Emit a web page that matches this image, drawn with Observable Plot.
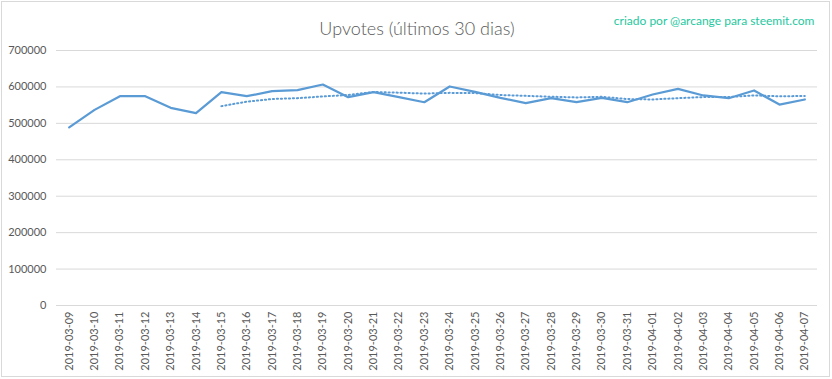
<!DOCTYPE html>
<html>
<head>
<meta charset="utf-8">
<script src="https://cdn.jsdelivr.net/npm/d3@7"></script>
<script src="https://cdn.jsdelivr.net/npm/@observablehq/plot@0.6"></script>
<style>
  html, body { margin: 0; padding: 0; background: #fff; }
  #chart { position: relative; width: 832px; height: 379px; }
  #chart svg { position: absolute; left: 0; top: 0; }
  #border { position: absolute; left: 1px; top: 1px; width: 827px; height: 374px; border: 1px solid #d9d9d9; pointer-events: none; }
</style>
</head>
<body>
<div id="chart"><div id="border"></div></div>
<script>
const dates = [
  "2019-03-09","2019-03-10","2019-03-11","2019-03-12","2019-03-13","2019-03-14","2019-03-15",
  "2019-03-16","2019-03-17","2019-03-18","2019-03-19","2019-03-20","2019-03-21","2019-03-22",
  "2019-03-23","2019-03-24","2019-03-25","2019-03-26","2019-03-27","2019-03-28","2019-03-29",
  "2019-03-30","2019-03-31","2019-04-01","2019-04-02","2019-04-03","2019-04-04","2019-04-05",
  "2019-04-06","2019-04-07"
];
const upvotes = [
  489000, 537000, 574500, 574500, 542700, 528000, 585600,
  574500, 588300, 591000, 606600, 571800, 585600, 571800,
  558000, 601200, 586500, 570000, 555300, 569000, 558000,
  570000, 558000, 579200, 594800, 576500, 569000, 590200,
  551700, 565500
];
const yTicks = [0, 100000, 200000, 300000, 400000, 500000, 600000, 700000];
const title = "Upvotes (últimos 30 dias)";
const credit = "criado por @arcange para steemit.com";

const data = dates.map((d, i) => ({date: d, value: upvotes[i]}));
const blue = "#5b9bd5";
const font = "Lato, 'Open Sans', sans-serif";

const chart = Plot.plot({
  width: 832,
  height: 379,
  marginLeft: 56,
  marginRight: 15,
  marginTop: 50,
  marginBottom: 74,
  style: {fontFamily: font, background: "transparent", color: "#595959"},
  x: {type: "point", domain: dates, padding: 0.5, round: false, label: null},
  y: {domain: [0, 700000], label: null},
  marks: [
    Plot.ruleY(yTicks, {stroke: "#d9d9d9", strokeWidth: 1}),
    Plot.axisY(yTicks, {tickSize: 0, tickPadding: 10, tickFormat: d => String(d), fontSize: 11, fill: "#595959", label: null}),
    Plot.axisX({tickSize: 0, tickPadding: 6, tickRotate: -90, fontSize: 11, fill: "#595959", label: null}),
    Plot.line(data, Plot.windowY({k: 7, anchor: "end", strict: true}, {x: "date", y: "value", stroke: blue, strokeWidth: 2, strokeDasharray: "1.2,2.8"})),
    Plot.line(data, {x: "date", y: "value", stroke: blue, strokeWidth: 2.25}),
    Plot.text([title], {frameAnchor: "top", dx: -20, dy: -28, text: d => d, fontSize: 18, fontWeight: 300, fill: "#595959"}),
    Plot.text([credit], {frameAnchor: "top-right", dx: -3, dy: -34, text: d => d, fontSize: 12, fill: "#1ec8a0", textAnchor: "end"})
  ]
});
document.getElementById("chart").appendChild(chart);
</script>
</body>
</html>
